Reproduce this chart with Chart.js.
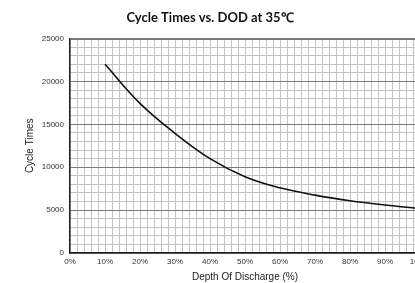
<!DOCTYPE html>
<html>
<head>
<meta charset="utf-8">
<script src="https://cdn.jsdelivr.net/npm/chart.js@4.4.1/dist/chart.umd.min.js"></script>
<style>
    html, body { margin: 0; padding: 0; background: #fff; overflow: hidden; }
    #wrap { width: 450px; height: 283px; }
</style>
</head>
<body>
<div id="wrap"><canvas id="grafico" width="450" height="283"></canvas></div>
<script>
// curva de ciclos x profundidade de descarga
const DOD    = [10, 20, 30, 40, 50, 60, 70, 80, 90, 100];
const CICLOS = [22000, 17450, 13950, 11000, 8900, 7600, 6750, 6100, 5600, 5180];

const COR_GRID_MENOR = "#c4c4c4";
const COR_GRID_MAIOR = "#7a7a7a";
const COR_BORDA      = "#222";
const FONTE = "'Liberation Sans', Arial, sans-serif";

new Chart(document.getElementById("grafico"), {
    type: "line",
    data: {
        datasets: [{
            data: DOD.map((x, i) => ({ x, y: CICLOS[i] })),
            borderColor: "#111",
            borderWidth: 1.6,
            pointRadius: 0,
            tension: 0.4,
            fill: false,
        }],
    },
    options: {
        responsive: false,
        animation: false,
        layout: { padding: { left: 0, right: 30, top: 0, bottom: 0 } },
        plugins: {
            legend: { display: false },
            tooltip: { enabled: false },
            title: {
                display: true,
                text: "Cycle Times vs. DOD at 35\u2103",
                font: { family: "Lato, 'Open Sans', sans-serif", size: 13, weight: "bold" },
                color: "#111",
                padding: { top: 10, bottom: 13 },
            },
        },
        scales: {
            x: {
                type: "linear",
                min: 0, max: 100,
                afterFit: s => { s.height = 30; },
                ticks: {
                    stepSize: 2,
                    autoSkip: false,
                    maxRotation: 0,
                    padding: 4,
                    font: { family: FONTE, size: 8 },
                    color: "#333",
                    callback: v => v % 10 === 0 ? v + "%" : "",
                },
                grid: { color: COR_GRID_MENOR, lineWidth: 1, drawTicks: false },
                border: { color: COR_BORDA, width: 1.5 },
                title: {
                    display: true,
                    text: "Depth Of Discharge (%)",
                    font: { family: FONTE, size: 10 },
                    color: "#222",
                    padding: { top: 0, bottom: 0 },
                },
            },
            y: {
                min: 0, max: 25000,
                afterFit: s => { s.width = 70; },
                ticks: {
                    stepSize: 1000,
                    autoSkip: false,
                    padding: 6,
                    font: { family: FONTE, size: 8 },
                    color: "#333",
                    callback: v => v % 5000 === 0 ? String(v) : "",
                },
                grid: {
                    drawTicks: false,
                    color: ctx => ctx.tick && ctx.tick.value % 5000 === 0 ? COR_GRID_MAIOR : COR_GRID_MENOR,
                    lineWidth: ctx => ctx.tick && ctx.tick.value === 25000 ? 2 : 1,
                },
                border: { color: COR_BORDA, width: 1.5 },
                title: {
                    display: true,
                    text: "Cycle Times",
                    font: { family: FONTE, size: 10 },
                    color: "#222",
                    padding: { top: 24, bottom: 0 },
                },
            },
        },
    },
});
</script>
</body>
</html>
